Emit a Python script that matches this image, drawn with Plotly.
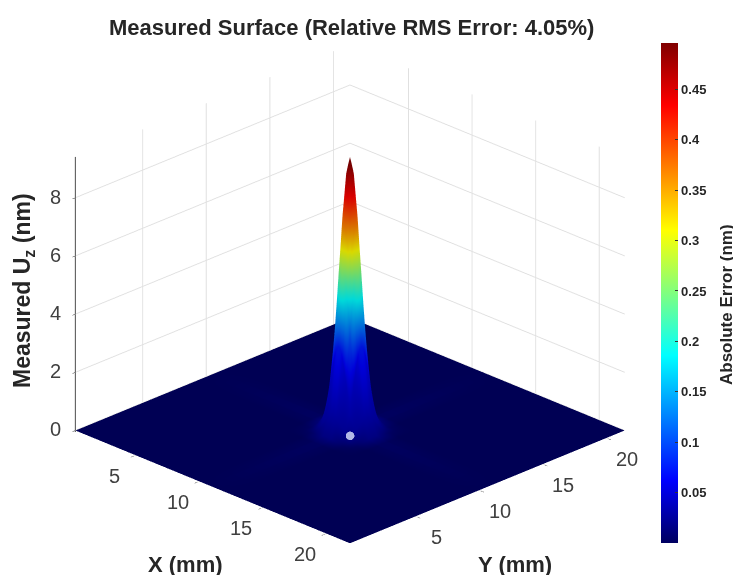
import plotly.graph_objects as go

# grid (mm)
x_mm = [0.4, 8.6, 9.4, 9.9, 10.3, 10.6, 10.75, 10.9, 11.05, 11.2, 11.35, 11.5, 11.65, 11.8, 12.1, 12.5, 13.0, 13.8, 22.0]
y_mm = [-0.3, 7.9, 8.7, 9.2, 9.6, 9.9, 10.05, 10.2, 10.35, 10.5, 10.65, 10.8, 10.95, 11.1, 11.4, 11.8, 12.3, 13.1, 21.3]

# one quadrant of the peak, centre first (the peak is symmetric)
uz_quadrant = [
    [9.40, 9.11, 8.30, 7.10, 5.70, 3.05, 0.90, 0.100, 0.010, 0],
    [9.11, 8.83, 8.04, 6.88, 5.53, 2.96, 0.87, 0.100, 0.010, 0],
    [8.30, 8.04, 7.32, 6.26, 5.03, 2.69, 0.79, 0.090, 0.010, 0],
    [7.10, 6.88, 6.26, 5.36, 4.30, 2.30, 0.68, 0.080, 0.005, 0],
    [5.70, 5.53, 5.03, 4.30, 3.46, 1.85, 0.54, 0.063, 0.005, 0],
    [3.05, 2.96, 2.69, 2.30, 1.85, 0.99, 0.29, 0.034, 0.003, 0],
    [0.90, 0.87, 0.79, 0.68, 0.54, 0.29, 0.086, 0.010, 0, 0],
    [0.10, 0.10, 0.09, 0.08, 0.063, 0.034, 0.010, 0.002, 0, 0],
    [0.01, 0.01, 0.01, 0.005, 0.005, 0.003, 0, 0, 0, 0],
    [0, 0, 0, 0, 0, 0, 0, 0, 0, 0],
]
err_quadrant = [
    [0.495, 0.490, 0.445, 0.370, 0.265, 0.075, 0.038, 0.022, 0.007, 0.002],
    [0.490, 0.470, 0.430, 0.355, 0.250, 0.072, 0.038, 0.022, 0.007, 0.002],
    [0.445, 0.430, 0.385, 0.310, 0.210, 0.060, 0.036, 0.022, 0.007, 0.002],
    [0.370, 0.355, 0.310, 0.235, 0.160, 0.052, 0.034, 0.020, 0.005, 0.002],
    [0.265, 0.250, 0.210, 0.160, 0.105, 0.046, 0.032, 0.018, 0.005, 0.002],
    [0.075, 0.072, 0.060, 0.052, 0.046, 0.040, 0.028, 0.014, 0.004, 0.002],
    [0.038, 0.038, 0.036, 0.034, 0.032, 0.028, 0.020, 0.008, 0.002, 0.002],
    [0.022, 0.022, 0.022, 0.020, 0.018, 0.014, 0.008, 0.005, 0.002, 0.002],
    [0.007, 0.007, 0.007, 0.005, 0.005, 0.004, 0.002, 0.002, 0.002, 0.002],
    [0.002, 0.002, 0.002, 0.002, 0.002, 0.002, 0.002, 0.002, 0.002, 0.002],
]
highlight_x = [12.7]
highlight_y = [9.0]
highlight_z = [0.36]

x_ticks = [5, 10, 15, 20]
y_ticks = [5, 10, 15, 20]
z_ticks = [0, 2, 4, 6, 8]
cbar_ticks = [0.05, 0.1, 0.15, 0.2, 0.25, 0.3, 0.35, 0.4, 0.45]
cbar_labels = ["0.05", "0.1", "0.15", "0.2", "0.25", "0.3", "0.35", "0.4", "0.45"]

X_RANGE = [0.4, 22]
Y_RANGE = [-0.3, 21.3]
Z_RANGE = [-0.05, 9.4]

W, H, PAGE = 733, 567, 8


def px(v):
    return (v - PAGE) / W


def py(v):
    return 1 - (v - PAGE) / H


def mirror(q):
    half = [r[::-1] + r[1:] for r in q]
    return half[::-1] + half[1:]


jet = [[0, "#000060"], [0.125, "#0000ff"], [0.375, "#00ffff"], [0.625, "#ffff00"],
       [0.875, "#ff0000"], [1, "#800000"]]
FONT = "Liberation Sans"
TXT = "#262626"
TICK = "#404040"

fig = go.Figure()
fig.add_trace(go.Surface(
    x=x_mm, y=y_mm, z=mirror(uz_quadrant), surfacecolor=mirror(err_quadrant),
    colorscale=jet, cmin=0.0, cmax=0.496, hoverinfo="skip",
    lighting=dict(ambient=0.85, diffuse=0.4, specular=0.1, roughness=0.6, fresnel=0.05),
    lightposition=dict(x=1000, y=-1000, z=1000),
    contours=dict(x=dict(highlight=False), y=dict(highlight=False), z=dict(highlight=False)),
    colorbar=dict(
        x=px(661), xanchor="left", xpad=0, thickness=17, thicknessmode="pixels",
        len=500, lenmode="pixels", y=py(293), yanchor="middle", ypad=0,
        outlinewidth=0, tickvals=cbar_ticks, ticktext=cbar_labels, ticks="inside",
        ticklen=3, tickcolor="#333333",
        tickfont=dict(family=FONT, size=13, color=TXT, weight="bold"),
    ),
))
fig.add_trace(go.Scatter3d(
    x=highlight_x, y=highlight_y, z=highlight_z, mode="markers", hoverinfo="skip",
    showlegend=False, marker=dict(size=5, color="#dfe6ff", opacity=0.8, line=dict(width=0)),
))


def ax(rng, ticks, line):
    return dict(range=rng, tickmode="array", tickvals=ticks, showticklabels=False,
                title=dict(text=""), showbackground=False, gridcolor="#e0e0e0", gridwidth=2,
                zeroline=False, showspikes=False, showline=line, linecolor="#333333",
                linewidth=2, ticks="outside", ticklen=4, tickcolor="#333333")


def label(text, x, y, size, angle=0):
    return dict(text=f"<b>{text}</b>", x=px(x), y=py(y), xref="paper", yref="paper", xanchor="center",
                yanchor="middle", showarrow=False, textangle=angle,
                font=dict(family=FONT, size=size, color=TXT))


def tick_label(x, y, z, text, dx, dy):
    return dict(x=x, y=y, z=z, text=str(text), showarrow=False, xshift=dx, yshift=-dy,
                xanchor="center", yanchor="middle", font=dict(family=FONT, size=20, color=TICK))


scene_labels = (
    [tick_label(v, Y_RANGE[0] + 0.1, 0, v, -21, 22) for v in x_ticks]
    + [tick_label(X_RANGE[1] - 0.1, v, 0, v, 20, 22) for v in y_ticks]
    + [tick_label(X_RANGE[0] + 0.1, Y_RANGE[0] + 0.1, v, v, -22, -1) for v in z_ticks]
)

fig.update_layout(
    width=W, height=H, margin=dict(l=0, r=0, t=0, b=0),
    paper_bgcolor="white", showlegend=False,
    scene=dict(
        domain=dict(x=[0, 0.933], y=[0, 0.99]),
        xaxis=ax(X_RANGE, x_ticks, False), yaxis=ax(Y_RANGE, y_ticks, False),
        zaxis=ax(Z_RANGE, z_ticks, True),
        aspectmode="manual", aspectratio=dict(x=1.385, y=1.385, z=1.075),
        camera=dict(projection=dict(type="orthographic"), up=dict(x=0, y=0, z=1),
                    center=dict(x=0, y=0, z=0), eye=dict(x=0.95, y=-0.95, z=0.605)),
        annotations=scene_labels,
    ),
    annotations=[
        label("Measured Surface (Relative RMS Error: 4.05%)", 351, 27, 22),
        label("X (mm)", 185, 564, 22),
        label("Y (mm)", 515, 564, 22),
        label("Measured U<sub>z</sub> (nm)", 23, 291, 23, -90),
        label("Absolute Error (nm)", 726, 305, 17, -90),
    ],
)
fig.write_html("out.html")
